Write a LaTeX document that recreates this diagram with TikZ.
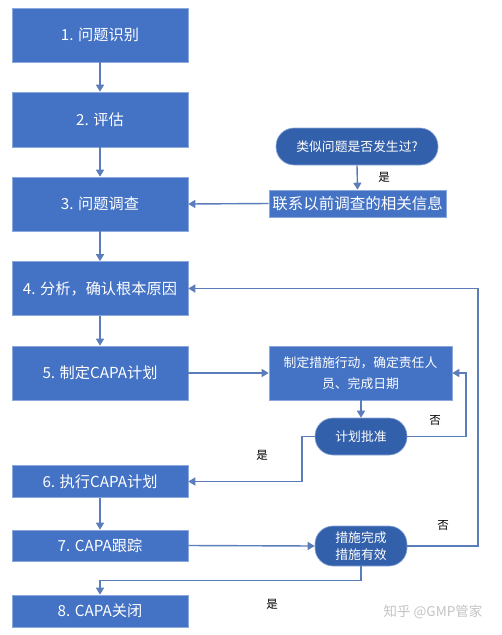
\documentclass[tikz,border=0pt]{standalone}
\usepackage{fontspec}
\newfontfamily\cjk{Noto Sans CJK SC}
\usetikzlibrary{arrows.meta}
\definecolor{boxblue}{HTML}{4472C4}
\definecolor{ovalblue}{HTML}{3360AA}
\definecolor{edgeblue}{HTML}{8DA9DB}
\definecolor{linecol}{HTML}{5B7DBA}
\definecolor{wm}{HTML}{C4C4C4}
\tikzset{
  stepbox/.style={rectangle, fill=boxblue, draw=edgeblue, line width=0.6pt, text=white, font=\cjk\fontsize{15.2}{17}\selectfont, minimum width=176pt, inner sep=2pt},
  sidebox/.style={rectangle, fill=boxblue, draw=edgeblue, line width=0.6pt, text=white, inner sep=2pt, align=center},
  ovalbox/.style={rectangle, rounded corners=18pt, fill=ovalblue, draw=edgeblue, line width=0.6pt, text=white, font=\cjk\fontsize{12.8}{17}\selectfont, align=center, inner sep=2pt},
  conn/.style={draw=linecol, line width=1.4pt, -{Triangle[length=7pt,width=8pt]}},
  lbl/.style={font=\cjk\fontsize{11.5}{13}\selectfont, text=black}
}
\begin{document}
\begin{tikzpicture}[x=1pt,y=-1pt]
\useasboundingbox (0,0) rectangle (502,635);
\fill[white] (0,0) rectangle (502,635);
% left steps
\node[stepbox, minimum height=54pt] (b1) at (100,35) {1. 问题识别};
\node[stepbox, minimum height=55pt] (b2) at (100,119.5) {2. 评估};
\node[stepbox, minimum height=54pt] (b3) at (100,204) {3. 问题调查};
\node[stepbox, minimum height=54pt] (b4) at (100,288.5) {4. 分析，确认根本原因};
\node[stepbox, minimum height=54pt] (b5) at (100,373) {5. 制定CAPA计划};
\node[stepbox, minimum height=32pt] (b6) at (100,481.5) {6. 执行CAPA计划};
\node[stepbox, minimum height=31pt] (b7) at (100,545.5) {7. CAPA跟踪};
\node[stepbox, minimum height=32pt] (b8) at (100,611) {8. CAPA关闭};
% right side
\node[ovalbox, minimum width=162pt, minimum height=37pt] (q1) at (357,146.5) {类似问题是否发生过?};
\node[sidebox, minimum width=177pt, minimum height=27pt, font=\cjk\fontsize{15.5}{18}\selectfont] (info) at (357.5,203.5) {联系以前调查的相关信息};
\node[sidebox, minimum width=183pt, minimum height=54pt, font=\cjk\fontsize{12.8}{21}\selectfont] (plan) at (360.5,373) {制定措施行动，确定责任人\\员、完成日期};
\node[ovalbox, minimum width=92pt, minimum height=37pt] (appr) at (361,436.5) {计划批准};
\node[ovalbox, minimum width=92pt, minimum height=40pt] (chk) at (361,546) {措施完成\\措施有效};
% coordinates
\coordinate (r1) at (466,373);
\coordinate (l1) at (302,481.5);
\coordinate (r2) at (478,288.5);
\coordinate (j1) at (100,580.7);
% connectors
\draw[conn] (b1) -- (b2);
\draw[conn] (b2) -- (b3);
\draw[conn] (b3) -- (b4);
\draw[conn] (b4) -- (b5);
\draw[conn] (b6) -- (b7);
\draw[conn] (q1.south) -- (info.north);
\draw[conn] (info.west) -- (b3.east);
\draw[conn] (b5.east) -- (plan.west);
\draw[conn] (plan.south -| appr.north) -- (appr.north);
\draw[conn] (appr.east) -| (r1) -- (plan.east);
\draw[conn] (appr.west) -| (l1) -- (b6.east);
\draw[conn] (b7.east) -- (chk.west);
\draw[conn] (chk.east) -| (r2) -- (b4.east);
\draw[conn] (chk.south) |- (j1) -- (b8.north);
% labels
\node[lbl] (y1) at (384,177) {是};
\node[lbl] (n1) at (435,420) {否};
\node[lbl] (y2) at (262,455) {是};
\node[lbl] (n2) at (443,525.7) {否};
\node[lbl] (y3) at (272,604) {是};
\node[font=\cjk\fontsize{13.5}{16}\selectfont, text=wm] (wmk) at (433,612) {知乎 @GMP管家};
\end{tikzpicture}
\end{document}
